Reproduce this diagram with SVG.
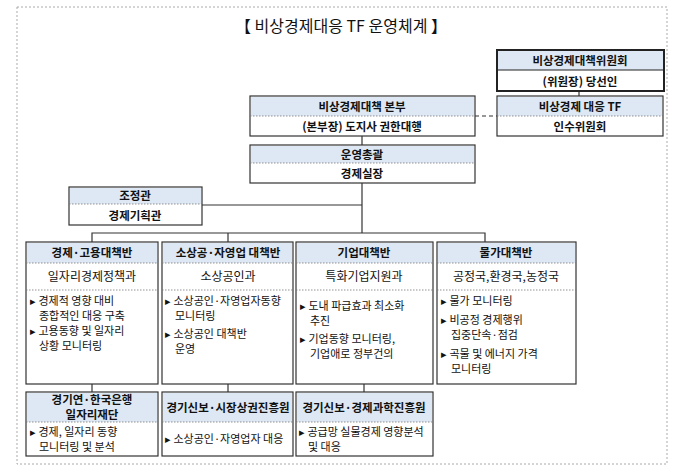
<svg xmlns="http://www.w3.org/2000/svg" width="680" height="473" viewBox="0 0 680 473">
<style>
text{font-family:"Noto Sans CJK KR","Noto Sans",sans-serif;fill:#111}
.box{fill:#fff;stroke:#333;stroke-width:1.2}
.hd{fill:#dde8f4}
.sep{stroke:#777;stroke-width:0.8;stroke-dasharray:1.5 1.5}
.h{font-size:11.5px;font-weight:bold;text-anchor:middle}
.m{font-size:12px;text-anchor:middle}
.b{font-size:11px}
.ln{stroke:#333;stroke-width:1.2;fill:none}
</style>
<rect x="17" y="7" width="650" height="457" fill="#fff" stroke="#aaa" stroke-dasharray="2 2"/>
<text x="341" y="32" font-size="16" text-anchor="middle">【 비상경제대응 TF 운영체계 】</text>
<g id="connectors">
<line class="ln" x1="579" y1="91" x2="579" y2="96"/>
<line class="ln" x1="475" y1="116" x2="497" y2="116" stroke-dasharray="4 3"/>
<line class="ln" x1="362" y1="136" x2="362" y2="145"/>
<line class="ln" x1="362" y1="183" x2="362" y2="233"/>
<line class="ln" x1="202" y1="205" x2="362" y2="205"/>
<polyline class="ln" points="92,242 92,233 485,233 485,242"/>
<line class="ln" x1="228" y1="233" x2="228" y2="242"/>
<line class="ln" x1="92" y1="384" x2="92" y2="392"/>
<line class="ln" x1="228" y1="384" x2="228" y2="392"/>
<line class="ln" x1="364" y1="384" x2="364" y2="392"/>
</g>
<g id="committee">
<rect x="497" y="50" width="167" height="41" fill="#fff" stroke="#222" stroke-width="2"/>
<rect x="498" y="51" width="165" height="19" class="hd"/>
<line x1="497" y1="70" x2="664" y2="70" stroke="#222" stroke-width="1.2"/>
<text class="h" x="580" y="65">비상경제대책위원회</text>
<text class="h" x="580" y="86" font-size="12">(위원장) 당선인</text>
</g>
<g id="tf">
<rect class="box" x="497" y="96" width="166" height="40"/>
<rect class="hd" x="498" y="97" width="164" height="19"/>
<line class="sep" x1="497" y1="116" x2="663" y2="116"/>
<text class="h" x="580" y="111">비상경제 대응 TF</text>
<text class="h" x="580" y="131">인수위원회</text>
</g>
<g id="hq">
<rect class="box" x="250" y="96" width="225" height="40"/>
<rect class="hd" x="251" y="97" width="223" height="19"/>
<line class="sep" x1="250" y1="116" x2="475" y2="116"/>
<text class="h" x="362" y="111">비상경제대책 본부</text>
<text class="h" x="362" y="131">(본부장) 도지사 권한대행</text>
</g>
<g id="ops">
<rect class="box" x="250" y="145" width="225" height="38"/>
<rect class="hd" x="251" y="146" width="223" height="17"/>
<line class="sep" x1="250" y1="163" x2="475" y2="163"/>
<text class="h" x="362" y="159">운영총괄</text>
<text class="h" x="362" y="178">경제실장</text>
</g>
<g id="coord">
<rect class="box" x="69" y="187" width="133" height="38"/>
<rect class="hd" x="70" y="188" width="131" height="16"/>
<line class="sep" x1="69" y1="204" x2="202" y2="204"/>
<text class="h" x="135" y="200">조정관</text>
<text class="h" x="135" y="220" font-size="12.5">경제기획관</text>
</g>
<g id="team1">
<rect class="box" x="26" y="242" width="132" height="142"/>
<rect class="hd" x="27" y="243" width="130" height="20"/>
<line class="sep" x1="26" y1="263" x2="158" y2="263"/>
<line class="sep" x1="26" y1="290" x2="158" y2="290"/>
<text class="h" x="92" y="257">경제·고용대책반</text>
<text class="m" x="92" y="281">일자리경제정책과</text>
<text class="b" x="30" y="305">▸ 경제적 영향 대비</text>
<text class="b" x="39" y="320">종합적인 대응 구축</text>
<text class="b" x="30" y="335">▸ 고용동향 및 일자리</text>
<text class="b" x="39" y="350">상황 모니터링</text>
</g>
<g id="team2">
<rect class="box" x="162" y="242" width="131" height="142"/>
<rect class="hd" x="163" y="243" width="129" height="20"/>
<line class="sep" x1="162" y1="263" x2="293" y2="263"/>
<line class="sep" x1="162" y1="290" x2="293" y2="290"/>
<text class="h" x="228" y="257">소상공·자영업 대책반</text>
<text class="m" x="228" y="281">소상공인과</text>
<text class="b" x="165" y="305" font-size="10.5">▸ 소상공인·자영업자동향</text>
<text class="b" x="175" y="320">모니터링</text>
<text class="b" x="165" y="338">▸ 소상공인 대책반</text>
<text class="b" x="175" y="353">운영</text>
</g>
<g id="team3">
<rect class="box" x="296" y="242" width="137" height="142"/>
<rect class="hd" x="297" y="243" width="135" height="20"/>
<line class="sep" x1="296" y1="263" x2="433" y2="263"/>
<line class="sep" x1="296" y1="290" x2="433" y2="290"/>
<text class="h" x="364" y="257">기업대책반</text>
<text class="m" x="364" y="281">특화기업지원과</text>
<text class="b" x="300" y="310">▸ 도내 파급효과 최소화</text>
<text class="b" x="310" y="325">추진</text>
<text class="b" x="300" y="343">▸ 기업동향 모니터링,</text>
<text class="b" x="310" y="358">기업애로 정부건의</text>
</g>
<g id="team4">
<rect class="box" x="437" y="242" width="139" height="142"/>
<rect class="hd" x="438" y="243" width="137" height="20"/>
<line class="sep" x1="437" y1="263" x2="576" y2="263"/>
<line class="sep" x1="437" y1="290" x2="576" y2="290"/>
<text class="h" x="506" y="257">물가대책반</text>
<text class="m" x="506" y="281">공정국,환경국,농정국</text>
<text class="b" x="441" y="305">▸ 물가 모니터링</text>
<text class="b" x="441" y="324">▸ 비공정 경제행위</text>
<text class="b" x="451" y="339">집중단속·점검</text>
<text class="b" x="441" y="358">▸ 곡물 및 에너지 가격</text>
<text class="b" x="451" y="373">모니터링</text>
</g>
<g id="sub1">
<rect class="box" x="26" y="392" width="132" height="64"/>
<rect class="hd" x="27" y="393" width="130" height="29"/>
<line class="sep" x1="26" y1="422" x2="158" y2="422"/>
<text class="h" x="92" y="404" font-size="10">경기연·한국은행</text>
<text class="h" x="92" y="419" font-size="10">일자리재단</text>
<text class="b" x="30" y="436">▸ 경제, 일자리 동향</text>
<text class="b" x="39" y="451">모니터링 및 분석</text>
</g>
<g id="sub2">
<rect class="box" x="162" y="392" width="131" height="64"/>
<rect class="hd" x="163" y="393" width="129" height="29"/>
<line class="sep" x1="162" y1="422" x2="293" y2="422"/>
<text class="h" x="228" y="412" font-size="11">경기신보·시장상권진흥원</text>
<text class="b" x="165" y="443" font-size="11">▸ 소상공인·자영업자 대응</text>
</g>
<g id="sub3">
<rect class="box" x="296" y="392" width="137" height="64"/>
<rect class="hd" x="297" y="393" width="135" height="29"/>
<line class="sep" x1="296" y1="422" x2="433" y2="422"/>
<text class="h" x="364" y="412" font-size="11">경기신보·경제과학진흥원</text>
<text class="b" x="299" y="436" font-size="11">▸ 공급망 실물경제 영향분석</text>
<text class="b" x="308" y="451" font-size="11">및 대응</text>
</g>
</svg>
